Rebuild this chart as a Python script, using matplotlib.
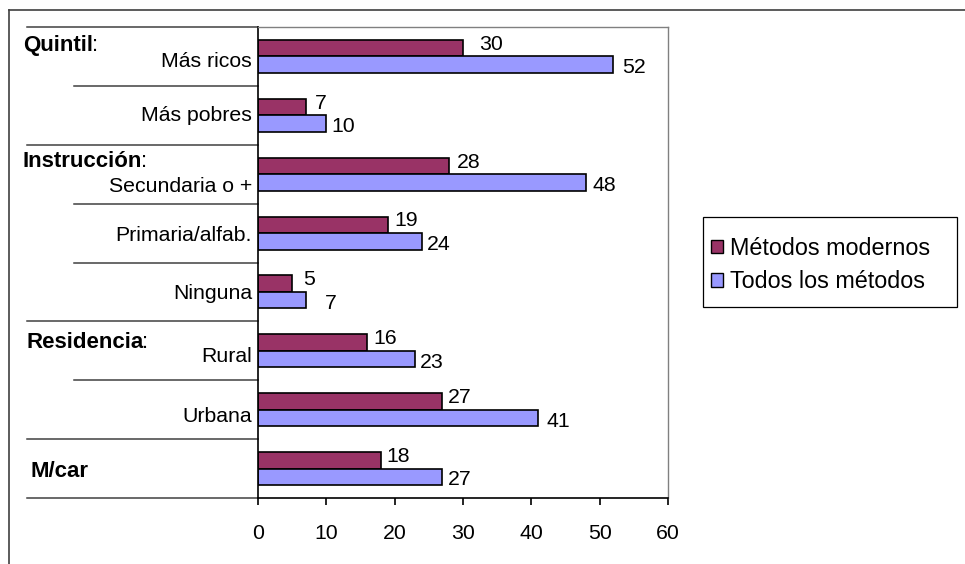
import matplotlib
matplotlib.use("Agg")
import matplotlib.pyplot as plt
import matplotlib.transforms as mtransforms
from matplotlib.lines import Line2D
from matplotlib.patches import Patch, Rectangle
import numpy as np

# ---------------- data ----------------
categories = ["Más ricos", "Más pobres", "Secundaria o +", "Primaria/alfab.",
              "Ninguna", "Rural", "Urbana", ""]
groups = ["Quintil", "Instrucción", "Residencia", "M/car"]
group_colon = [True, True, True, False]
group_start = [0, 2, 5, 7]
modernos = [30, 7, 28, 19, 5, 16, 27, 18]
todos = [52, 10, 48, 24, 7, 23, 41, 27]
series_names = ["Métodos modernos", "Todos los métodos"]
xticks = [0, 10, 20, 30, 40, 50, 60]

# ---------------- layout ----------------
C_MOD = "#993366"
C_ALL = "#9999FF"
FS = 15.3
plt.rcParams['font.family'] = ['Liberation Sans', 'DejaVu Sans']

W, H = 965, 564
fig = plt.figure(figsize=(W / 100, H / 100), dpi=100)
L, R, T, B = 258, 668, 27, 498
ax = fig.add_axes([L / W, 1 - B / H, (R - L) / W, (B - T) / H])

n = len(categories)
y = np.arange(n)
h = 0.28
ax.barh(y - h / 2, modernos, height=h, color=C_MOD, edgecolor='black', linewidth=1.2)
ax.barh(y + h / 2, todos, height=h, color=C_ALL, edgecolor='black', linewidth=1.2)
ax.set_xlim(0, 60)
ax.set_ylim(n - 0.5, -0.5)

for s in ['top', 'right']:
    ax.spines[s].set_color('#808080')
    ax.spines[s].set_linewidth(1.0)
for s in ['left', 'bottom']:
    ax.spines[s].set_color('black')
    ax.spines[s].set_linewidth(1.2)

ax.set_yticks([])
ax.set_xticks(xticks)
ax.set_xticklabels([str(t) for t in xticks])
ax.tick_params(axis='x', direction='out', length=5, width=1.2, pad=14, labelsize=FS)

def px(dx, dy):
    # offset in pixels, dy positive downward
    return mtransforms.ScaledTranslation(dx / 100, -dy / 100, fig.dpi_scale_trans)

EM = FS * 100 / 72
BASE = 0.358 * EM  # from visual center to baseline

# value labels (gap in px from bar end to label)
gap_mod = [17, 10, 9, 8, 12, 7, 6, 6]
gap_all = [10, 6, 8, 6, 20, 6, 9, 6]
for i in range(n):
    ax.text(modernos[i], y[i] - h / 2, str(modernos[i]), fontsize=FS, ha='left', va='baseline',
            transform=ax.transData + px(gap_mod[i] - 1, -6 + BASE))
    ax.text(todos[i], y[i] + h / 2, str(todos[i]), fontsize=FS, ha='left', va='baseline',
            transform=ax.transData + px(gap_all[i] - 1, 1 + BASE))

# category labels
cat_dy = [2.5, -1.5, 10.5, 0.5, -1, 4, 5, 0]
for i, c in enumerate(categories):
    if c:
        ax.text(0, y[i], c, fontsize=FS, ha='right', va='baseline',
                transform=ax.transData + px(-6, cat_dy[i] + BASE))

# group headers
blend = mtransforms.blended_transform_factory(fig.transFigure, ax.transData)
hdr_x = [23, 23, 26, 30]
hdr_dy = [16.5, 15, 19.5, 30]
HFS = 16
for g, gs, col, hx, hdy in zip(groups, group_start, group_colon, hdr_x, hdr_dy):
    t = ax.text(hx / W, gs - 0.5, g, fontsize=HFS, fontweight='bold', ha='left', va='baseline',
                transform=blend + px(0, hdy + BASE), clip_on=False)
    if col:
        ax.annotate(':', xy=(1, 0), xycoords=t, xytext=(-0.8, 0), textcoords='offset points',
                    fontsize=HFS, ha='left', va='bottom', annotation_clip=False)

# separator lines
group_bounds = set(group_start) | {n}
for b in range(n + 1):
    x0 = 27 if b in group_bounds else 74
    ax.add_line(Line2D([x0 / W, L / W], [b - 0.5, b - 0.5], transform=blend,
                       color='#404040', linewidth=1.1, clip_on=False))

# outer frame (left and top)
fig.add_artist(Line2D([9 / W, 9 / W], [0, 1 - 10 / H], transform=fig.transFigure,
                      color='#404040', linewidth=1.2))
fig.add_artist(Line2D([9 / W, 1], [1 - 10 / H, 1 - 10 / H], transform=fig.transFigure,
                      color='#404040', linewidth=1.2))

# legend
fig.add_artist(Rectangle((703 / W, 1 - 307 / H), (957 - 703) / W, (307 - 217) / H,
                         transform=fig.transFigure, facecolor='none', edgecolor='black',
                         linewidth=0.9))
handles = [Patch(facecolor=C_MOD, edgecolor='black', linewidth=1.0),
           Patch(facecolor=C_ALL, edgecolor='black', linewidth=1.0)]
fig.legend(handles, series_names, loc='center left', bbox_to_anchor=(711 / W, 1 - 265 / H),
           frameon=False, fontsize=16.8, handlelength=0.52, handleheight=0.5,
           handletextpad=0.3, labelspacing=0.45, borderpad=0, borderaxespad=0)

fig.savefig("out.png", dpi=100)
